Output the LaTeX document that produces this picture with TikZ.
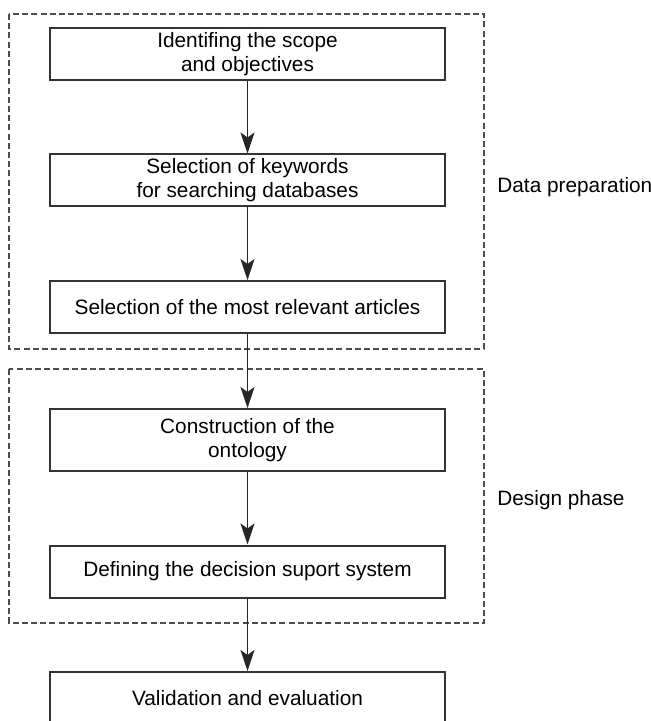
\documentclass[tikz,border=0pt]{standalone}
\usepackage{fontspec}
\setmainfont{Liberation Sans}
\usetikzlibrary{arrows.meta}

\begin{document}
\begin{tikzpicture}[x=0.5pt, y=-0.5pt,
		stage/.style={draw=black!80, line width=1pt, fill=white, minimum width=197.5pt, minimum height=26pt, inner sep=0pt, align=center, font=\fontsize{10.4}{12}\selectfont},
		phase/.style={draw=black!70, line width=0.7pt, dash pattern=on 3pt off 1.6pt},
		phaselabel/.style={anchor=base west, inner sep=0pt, font=\fontsize{10.4}{12}\selectfont},
		flow/.style={draw=black!85, line width=0.85pt, -{Stealth[length=10.5pt, width=7pt, inset=2.5pt]}}]
			\clip (0,0) rectangle (651,721);
			\draw[phase] (9,14) rectangle (484,349);
			\draw[phase] (9,369) rectangle (484,623);
			\node[stage] (scope) at (247.5,54.5) {Identifing the scope\\and objectives};
			\node[stage] (keywords) at (247.5,180.5) {Selection of keywords\\for searching databases};
			\node[stage] (articles) at (247.5,307) {Selection of the most relevant articles};
			\node[stage, minimum height=31pt] (ontology) at (247.5,440) {Construction of the\\ontology};
			\node[stage] (dss) at (247.5,571.5) {Defining the decision suport system};
			\node[stage] (validation) at (247.5,698) {Validation and evaluation};
			\node[phaselabel] (dataprep) at (497,193) {Data preparation};
			\node[phaselabel] (design) at (497,505) {Design phase};
			\foreach \a/\b in {scope/keywords, keywords/articles, articles/ontology, ontology/dss, dss/validation}
			{
				\draw[flow] (\a) -- (\b);
			}
		\end{tikzpicture}
\end{document}
